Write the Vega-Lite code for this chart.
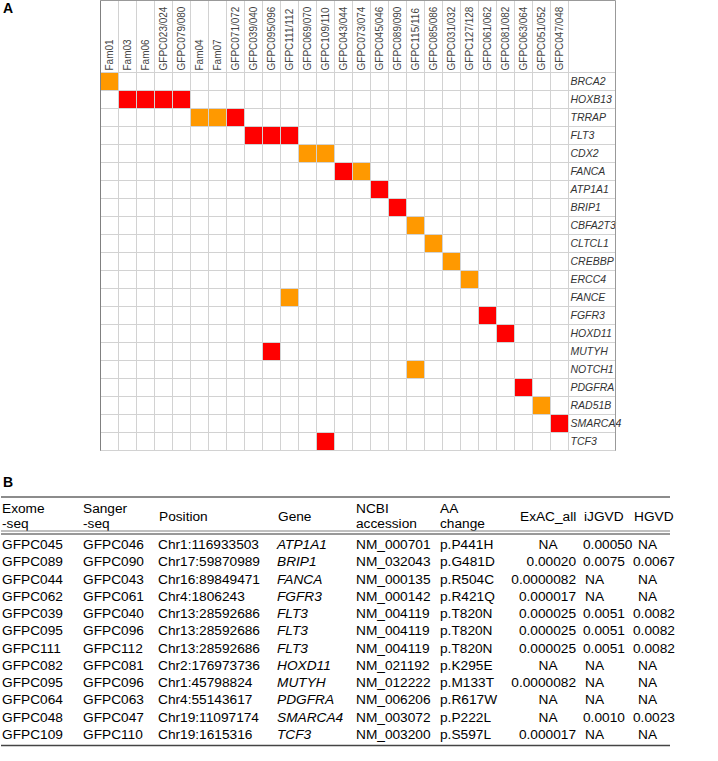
{
  "$schema": "https://vega.github.io/schema/vega-lite/v6.json",
  "width": 718,
  "height": 761,
  "autosize": {"type": "none"},
  "padding": 0,
  "background": "white",
  "config": {
    "view": {"stroke": null},
    "text": {"font": "Liberation Sans"},
    "axis": {"labelFont": "Liberation Sans"}
  },
  "datasets": {
    "cells": [
      {"col": "Fam01", "gene": "BRCA2", "class": "B"},
      {"col": "Fam03", "gene": "HOXB13", "class": "A"},
      {"col": "Fam06", "gene": "HOXB13", "class": "A"},
      {"col": "GFPC023/024", "gene": "HOXB13", "class": "A"},
      {"col": "GFPC079/080", "gene": "HOXB13", "class": "A"},
      {"col": "Fam04", "gene": "TRRAP", "class": "B"},
      {"col": "Fam07", "gene": "TRRAP", "class": "B"},
      {"col": "GFPC071/072", "gene": "TRRAP", "class": "A"},
      {"col": "GFPC039/040", "gene": "FLT3", "class": "A"},
      {"col": "GFPC095/096", "gene": "FLT3", "class": "A"},
      {"col": "GFPC111/112", "gene": "FLT3", "class": "A"},
      {"col": "GFPC069/070", "gene": "CDX2", "class": "B"},
      {"col": "GFPC109/110", "gene": "CDX2", "class": "B"},
      {"col": "GFPC043/044", "gene": "FANCA", "class": "A"},
      {"col": "GFPC073/074", "gene": "FANCA", "class": "B"},
      {"col": "GFPC045/046", "gene": "ATP1A1", "class": "A"},
      {"col": "GFPC089/090", "gene": "BRIP1", "class": "A"},
      {"col": "GFPC115/116", "gene": "CBFA2T3", "class": "B"},
      {"col": "GFPC085/086", "gene": "CLTCL1", "class": "B"},
      {"col": "GFPC031/032", "gene": "CREBBP", "class": "B"},
      {"col": "GFPC127/128", "gene": "ERCC4", "class": "B"},
      {"col": "GFPC111/112", "gene": "FANCE", "class": "B"},
      {"col": "GFPC061/062", "gene": "FGFR3", "class": "A"},
      {"col": "GFPC081/082", "gene": "HOXD11", "class": "A"},
      {"col": "GFPC095/096", "gene": "MUTYH", "class": "A"},
      {"col": "GFPC115/116", "gene": "NOTCH1", "class": "B"},
      {"col": "GFPC063/064", "gene": "PDGFRA", "class": "A"},
      {"col": "GFPC051/052", "gene": "RAD51B", "class": "B"},
      {"col": "GFPC047/048", "gene": "SMARCA4", "class": "A"},
      {"col": "GFPC109/110", "gene": "TCF3", "class": "A"}
    ],
    "table": [
      {"r": 0, "c": 0, "t": "Exome\n-seq"}, {"r": 0, "c": 1, "t": "Sanger\n-seq"}, {"r": 0, "c": 2, "t": "Position"}, {"r": 0, "c": 3, "t": "Gene"}, {"r": 0, "c": 4, "t": "NCBI\naccession"}, {"r": 0, "c": 5, "t": "AA\nchange"}, {"r": 0, "c": 6, "t": "ExAC_all"}, {"r": 0, "c": 7, "t": "iJGVD"}, {"r": 0, "c": 8, "t": "HGVD"},
      {"r": 1, "c": 0, "t": "GFPC045"}, {"r": 1, "c": 1, "t": "GFPC046"}, {"r": 1, "c": 2, "t": "Chr1:116933503"}, {"r": 1, "c": 3, "t": "ATP1A1"}, {"r": 1, "c": 4, "t": "NM_000701"}, {"r": 1, "c": 5, "t": "p.P441H"}, {"r": 1, "c": 6, "t": "NA"}, {"r": 1, "c": 7, "t": "0.00050"}, {"r": 1, "c": 8, "t": "NA"},
      {"r": 2, "c": 0, "t": "GFPC089"}, {"r": 2, "c": 1, "t": "GFPC090"}, {"r": 2, "c": 2, "t": "Chr17:59870989"}, {"r": 2, "c": 3, "t": "BRIP1"}, {"r": 2, "c": 4, "t": "NM_032043"}, {"r": 2, "c": 5, "t": "p.G481D"}, {"r": 2, "c": 6, "t": "0.00020"}, {"r": 2, "c": 7, "t": "0.0075"}, {"r": 2, "c": 8, "t": "0.0067"},
      {"r": 3, "c": 0, "t": "GFPC044"}, {"r": 3, "c": 1, "t": "GFPC043"}, {"r": 3, "c": 2, "t": "Chr16:89849471"}, {"r": 3, "c": 3, "t": "FANCA"}, {"r": 3, "c": 4, "t": "NM_000135"}, {"r": 3, "c": 5, "t": "p.R504C"}, {"r": 3, "c": 6, "t": "0.0000082"}, {"r": 3, "c": 7, "t": "NA"}, {"r": 3, "c": 8, "t": "NA"},
      {"r": 4, "c": 0, "t": "GFPC062"}, {"r": 4, "c": 1, "t": "GFPC061"}, {"r": 4, "c": 2, "t": "Chr4:1806243"}, {"r": 4, "c": 3, "t": "FGFR3"}, {"r": 4, "c": 4, "t": "NM_000142"}, {"r": 4, "c": 5, "t": "p.R421Q"}, {"r": 4, "c": 6, "t": "0.000017"}, {"r": 4, "c": 7, "t": "NA"}, {"r": 4, "c": 8, "t": "NA"},
      {"r": 5, "c": 0, "t": "GFPC039"}, {"r": 5, "c": 1, "t": "GFPC040"}, {"r": 5, "c": 2, "t": "Chr13:28592686"}, {"r": 5, "c": 3, "t": "FLT3"}, {"r": 5, "c": 4, "t": "NM_004119"}, {"r": 5, "c": 5, "t": "p.T820N"}, {"r": 5, "c": 6, "t": "0.000025"}, {"r": 5, "c": 7, "t": "0.0051"}, {"r": 5, "c": 8, "t": "0.0082"},
      {"r": 6, "c": 0, "t": "GFPC095"}, {"r": 6, "c": 1, "t": "GFPC096"}, {"r": 6, "c": 2, "t": "Chr13:28592686"}, {"r": 6, "c": 3, "t": "FLT3"}, {"r": 6, "c": 4, "t": "NM_004119"}, {"r": 6, "c": 5, "t": "p.T820N"}, {"r": 6, "c": 6, "t": "0.000025"}, {"r": 6, "c": 7, "t": "0.0051"}, {"r": 6, "c": 8, "t": "0.0082"},
      {"r": 7, "c": 0, "t": "GFPC111"}, {"r": 7, "c": 1, "t": "GFPC112"}, {"r": 7, "c": 2, "t": "Chr13:28592686"}, {"r": 7, "c": 3, "t": "FLT3"}, {"r": 7, "c": 4, "t": "NM_004119"}, {"r": 7, "c": 5, "t": "p.T820N"}, {"r": 7, "c": 6, "t": "0.000025"}, {"r": 7, "c": 7, "t": "0.0051"}, {"r": 7, "c": 8, "t": "0.0082"},
      {"r": 8, "c": 0, "t": "GFPC082"}, {"r": 8, "c": 1, "t": "GFPC081"}, {"r": 8, "c": 2, "t": "Chr2:176973736"}, {"r": 8, "c": 3, "t": "HOXD11"}, {"r": 8, "c": 4, "t": "NM_021192"}, {"r": 8, "c": 5, "t": "p.K295E"}, {"r": 8, "c": 6, "t": "NA"}, {"r": 8, "c": 7, "t": "NA"}, {"r": 8, "c": 8, "t": "NA"},
      {"r": 9, "c": 0, "t": "GFPC095"}, {"r": 9, "c": 1, "t": "GFPC096"}, {"r": 9, "c": 2, "t": "Chr1:45798824"}, {"r": 9, "c": 3, "t": "MUTYH"}, {"r": 9, "c": 4, "t": "NM_012222"}, {"r": 9, "c": 5, "t": "p.M133T"}, {"r": 9, "c": 6, "t": "0.0000082"}, {"r": 9, "c": 7, "t": "NA"}, {"r": 9, "c": 8, "t": "NA"},
      {"r": 10, "c": 0, "t": "GFPC064"}, {"r": 10, "c": 1, "t": "GFPC063"}, {"r": 10, "c": 2, "t": "Chr4:55143617"}, {"r": 10, "c": 3, "t": "PDGFRA"}, {"r": 10, "c": 4, "t": "NM_006206"}, {"r": 10, "c": 5, "t": "p.R617W"}, {"r": 10, "c": 6, "t": "NA"}, {"r": 10, "c": 7, "t": "NA"}, {"r": 10, "c": 8, "t": "NA"},
      {"r": 11, "c": 0, "t": "GFPC048"}, {"r": 11, "c": 1, "t": "GFPC047"}, {"r": 11, "c": 2, "t": "Chr19:11097174"}, {"r": 11, "c": 3, "t": "SMARCA4"}, {"r": 11, "c": 4, "t": "NM_003072"}, {"r": 11, "c": 5, "t": "p.P222L"}, {"r": 11, "c": 6, "t": "NA"}, {"r": 11, "c": 7, "t": "0.0010"}, {"r": 11, "c": 8, "t": "0.0023"},
      {"r": 12, "c": 0, "t": "GFPC109"}, {"r": 12, "c": 1, "t": "GFPC110"}, {"r": 12, "c": 2, "t": "Chr19:1615316"}, {"r": 12, "c": 3, "t": "TCF3"}, {"r": 12, "c": 4, "t": "NM_003200"}, {"r": 12, "c": 5, "t": "p.S597L"}, {"r": 12, "c": 6, "t": "0.000017"}, {"r": 12, "c": 7, "t": "NA"}, {"r": 12, "c": 8, "t": "NA"}
    ]
  },
  "layer": [
    {
      "data": {"name": "cells"},
      "layer": [
        {
          "mark": {"type": "rect"},
          "encoding": {
            "x": {
              "field": "col", "type": "nominal",
              "scale": {
                "type": "band",
                "domain": ["Fam01","Fam03","Fam06","GFPC023/024","GFPC079/080","Fam04","Fam07","GFPC071/072","GFPC039/040","GFPC095/096","GFPC111/112","GFPC069/070","GFPC109/110","GFPC043/044","GFPC073/074","GFPC045/046","GFPC089/090","GFPC115/116","GFPC085/086","GFPC031/032","GFPC127/128","GFPC061/062","GFPC081/082","GFPC063/064","GFPC051/052","GFPC047/048","_a","_b"],
                "range": [100, 615], "paddingInner": 0, "paddingOuter": 0.305556, "align": 0
              },
              "axis": {
                "orient": "bottom", "offset": -761, "tickBand": "extent", "ticks": true, "tickSize": 450,
                "values": ["Fam01","Fam03","Fam06","GFPC023/024","GFPC079/080","Fam04","Fam07","GFPC071/072","GFPC039/040","GFPC095/096","GFPC111/112","GFPC069/070","GFPC109/110","GFPC043/044","GFPC073/074","GFPC045/046","GFPC089/090","GFPC115/116","GFPC085/086","GFPC031/032","GFPC127/128","GFPC061/062","GFPC081/082","GFPC063/064","GFPC051/052","GFPC047/048"],
                "tickColor": "#d2d2d2", "tickWidth": 1, "domain": true, "domainColor": "#999999", "domainWidth": 1,
                "grid": false, "labels": true, "labelAngle": -90, "labelAlign": "left", "labelBaseline": "middle",
                "labelPadding": -380, "labelFontSize": 10, "labelColor": "#444444", "labelOverlap": false,
                "title": null, "zindex": 1
              }
            },
            "y": {
              "field": "gene", "type": "nominal",
              "scale": {
                "type": "band",
                "domain": ["_h1","_h2","_h3","_h4","BRCA2","HOXB13","TRRAP","FLT3","CDX2","FANCA","ATP1A1","BRIP1","CBFA2T3","CLTCL1","CREBBP","ERCC4","FANCE","FGFR3","HOXD11","MUTYH","NOTCH1","PDGFRA","RAD51B","SMARCA4","TCF3"],
                "range": [0, 450], "paddingInner": 0, "paddingOuter": 0
              },
              "axis": {
                "orient": "right", "offset": -618, "tickBand": "extent", "ticks": true, "tickSize": 515,
                "values": ["BRCA2","HOXB13","TRRAP","FLT3","CDX2","FANCA","ATP1A1","BRIP1","CBFA2T3","CLTCL1","CREBBP","ERCC4","FANCE","FGFR3","HOXD11","MUTYH","NOTCH1","PDGFRA","RAD51B","SMARCA4","TCF3"],
                "tickColor": "#d2d2d2", "tickWidth": 1, "domain": true, "domainColor": "#808080", "domainWidth": 1,
                "grid": false, "labels": true, "labelAlign": "left", "labelBaseline": "middle",
                "labelPadding": -45, "labelFontSize": 10.5, "labelFontStyle": "italic", "labelColor": "#333333",
                "labelOverlap": false, "title": null, "zindex": 1
              }
            },
            "color": {
              "field": "class", "type": "nominal",
              "scale": {"domain": ["A", "B"], "range": ["#ff0000", "#ff9900"]},
              "legend": null
            }
          }
        },
        {
          "mark": {"type": "rect"},
          "encoding": {
            "x": {
              "field": "col", "type": "nominal",
              "axis": {"orient": "top", "offset": -450, "ticks": false, "labels": false, "grid": false, "domain": true, "domainColor": "#808080", "domainWidth": 1.2, "title": null, "zindex": 1}
            },
            "y": {
              "field": "gene", "type": "nominal",
              "axis": {"orient": "left", "offset": -615, "ticks": false, "labels": false, "grid": false, "domain": true, "domainColor": "#999999", "domainWidth": 1, "title": null, "zindex": 1}
            },
            "color": {"field": "class", "type": "nominal", "legend": null}
          }
        }
      ],
      "resolve": {"axis": {"x": "independent", "y": "independent"}}
    },
    {
      "data": {"name": "table"},
      "encoding": {
        "x": {
          "field": "c", "type": "quantitative",
          "scale": {"domain": [-1, 0, 1, 2, 3, 4, 5, 6, 7, 8, 9], "range": [1, 2, 83, 158, 277, 356, 440, 519, 583, 633, 670], "zero": false, "nice": false},
          "axis": null
        },
        "y": {
          "field": "r", "type": "quantitative",
          "scale": {"domain": [-1, 0, 1, 12, 12.6], "range": [497, 517, 545, 735, 745.5], "zero": false, "nice": false},
          "axis": null
        }
      },
      "layer": [
        {
          "transform": [{"filter": "datum.r == 0 && indexof(datum.t, '-seq') < 0 && indexof(datum.t, 'NCBI') < 0 && indexof(datum.t, 'AA') < 0"}],
          "mark": {"type": "text", "align": "left", "baseline": "middle", "fontSize": 13.7, "color": "#000000", "dx": 1},
          "encoding": {"text": {"field": "t"}}
        },
        {
          "transform": [{"filter": "datum.r == 0 && (indexof(datum.t, '-seq') >= 0 || indexof(datum.t, 'NCBI') >= 0 || indexof(datum.t, 'AA') >= 0)"}],
          "mark": {"type": "text", "align": "left", "baseline": "middle", "fontSize": 13.7, "lineBreak": "\n", "lineHeight": 15, "dy": -8, "color": "#000000"},
          "encoding": {"text": {"field": "t"}}
        },
        {
          "transform": [{"filter": "datum.r > 0 && datum.c != 3 && datum.c != 6 && !(datum.c >= 7 && datum.t == 'NA')"}],
          "mark": {"type": "text", "align": "left", "baseline": "middle", "fontSize": 13.7, "color": "#000000"},
          "encoding": {"text": {"field": "t"}}
        },
        {
          "transform": [{"filter": "datum.r > 0 && datum.c == 7 && datum.t == 'NA'"}],
          "mark": {"type": "text", "align": "left", "baseline": "middle", "fontSize": 13.7, "dx": 2, "color": "#000000"},
          "encoding": {"text": {"field": "t"}}
        },
        {
          "transform": [{"filter": "datum.r > 0 && datum.c == 8 && datum.t == 'NA'"}],
          "mark": {"type": "text", "align": "left", "baseline": "middle", "fontSize": 13.7, "dx": 5, "color": "#000000"},
          "encoding": {"text": {"field": "t"}}
        },
        {
          "transform": [{"filter": "datum.r > 0 && datum.c == 3"}],
          "mark": {"type": "text", "align": "left", "baseline": "middle", "fontSize": 13.7, "fontStyle": "italic", "color": "#000000"},
          "encoding": {"text": {"field": "t"}}
        },
        {
          "transform": [{"filter": "datum.r > 0 && datum.c == 6 && datum.t != 'NA'"}],
          "mark": {"type": "text", "align": "right", "baseline": "middle", "fontSize": 13.7, "dx": 57, "color": "#000000"},
          "encoding": {"text": {"field": "t"}}
        },
        {
          "transform": [{"filter": "datum.r > 0 && datum.c == 6 && datum.t == 'NA'"}],
          "mark": {"type": "text", "align": "center", "baseline": "middle", "fontSize": 13.7, "dx": 29, "color": "#000000"},
          "encoding": {"text": {"field": "t"}}
        },
        {
          "transform": [{"filter": "datum.r == 0 && datum.c == 0"}],
          "mark": {"type": "rule", "color": "#666666", "strokeWidth": 1.3},
          "encoding": {"x": {"datum": -1, "type": "quantitative"}, "x2": {"datum": 9}, "y": {"datum": -1, "type": "quantitative"}}
        },
        {
          "transform": [{"filter": "datum.r == 0 && datum.c == 0"}],
          "mark": {"type": "rule", "color": "#808080", "strokeWidth": 1},
          "encoding": {"x": {"datum": -1, "type": "quantitative"}, "x2": {"datum": 9}, "y": {"datum": 0.5, "type": "quantitative"}}
        },
        {
          "transform": [{"filter": "datum.r == 0 && datum.c == 0"}],
          "mark": {"type": "rule", "color": "#333333", "strokeWidth": 1, "yOffset": 3},
          "encoding": {"x": {"datum": -1, "type": "quantitative"}, "x2": {"datum": 9}, "y": {"datum": 0.5, "type": "quantitative"}}
        },
        {
          "transform": [{"filter": "datum.r == 0 && datum.c == 0"}],
          "mark": {"type": "rule", "color": "#444444", "strokeWidth": 1.6},
          "encoding": {"x": {"datum": -1, "type": "quantitative"}, "x2": {"datum": 9}, "y": {"datum": 12.6, "type": "quantitative"}}
        }
      ]
    },
    {
      "data": {"values": [{"panel": "A"}, {"panel": "B"}]},
      "mark": {"type": "text", "align": "left", "baseline": "middle", "fontSize": 14, "fontWeight": "bold", "color": "#000000"},
      "encoding": {
        "text": {"field": "panel"},
        "x": {"field": "panel", "type": "nominal", "scale": {"type": "point", "domain": ["A", "B"], "range": [3, 3], "padding": 0}, "axis": null},
        "y": {"field": "panel", "type": "nominal", "scale": {"type": "point", "domain": ["A", "B"], "range": [9, 483], "padding": 0}, "axis": null}
      }
    }
  ],
  "resolve": {"scale": {"x": "independent", "y": "independent"}, "axis": {"x": "independent", "y": "independent"}}
}
